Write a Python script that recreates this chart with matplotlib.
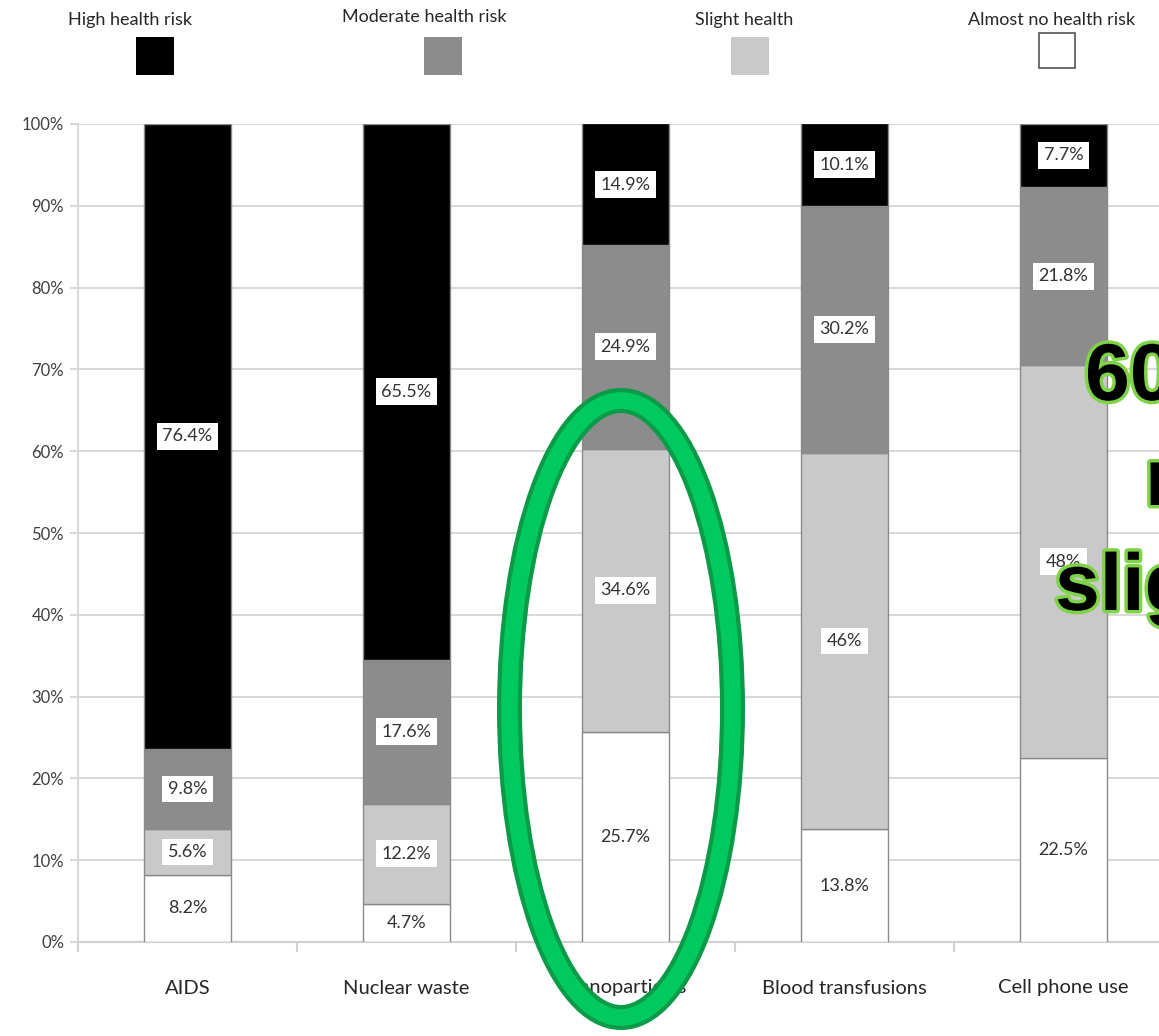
import matplotlib
matplotlib.use("Agg")
import matplotlib.pyplot as plt
import matplotlib.patheffects as pe
from matplotlib.patches import Ellipse, Rectangle
import numpy as np

categories = ['AIDS', 'Nuclear waste', 'Nanoparticles', 'Blood transfusions', 'Cell phone use']
series_names = ['High health risk', 'Moderate health risk', 'Slight health', 'Almost no health risk']
high = [76.4, 65.5, 14.9, 10.1, 7.7]
moderate = [9.8, 17.6, 24.9, 30.2, 21.8]
slight = [5.6, 12.2, 34.6, 46, 48]
none_risk = [8.2, 4.7, 25.7, 13.8, 22.5]
label_text = {
    'High health risk': ['76.4%', '65.5%', '14.9%', '10.1%', '7.7%'],
    'Moderate health risk': ['9.8%', '17.6%', '24.9%', '30.2%', '21.8%'],
    'Slight health': ['5.6%', '12.2%', '34.6%', '46%', '48%'],
    'Almost no health risk': ['8.2%', '4.7%', '25.7%', '13.8%', '22.5%'],
}
yticks = np.arange(0, 101, 10)

colors = {'High health risk': '#000000', 'Moderate health risk': '#8c8c8c',
          'Slight health': '#c9c9c9', 'Almost no health risk': '#ffffff'}

plt.rcParams['font.family'] = ['Lato', 'DejaVu Sans']

W, H = 1159, 1036
fig = plt.figure(figsize=(W / 100, H / 100), dpi=100)
ax = fig.add_axes([78 / W, (H - 942) / H, 1 - 78 / W, (942 - 124) / H])

x = np.arange(len(categories))
bottom = np.zeros(len(categories))
# stack from the bottom: almost none -> slight -> moderate -> high
for name, vals in [('Almost no health risk', none_risk), ('Slight health', slight),
                   ('Moderate health risk', moderate), ('High health risk', high)]:
    vals = np.array(vals, dtype=float)
    ax.bar(x, vals, 0.4, bottom=bottom, color=colors[name], edgecolor='#8a8a8a',
           linewidth=1.0, zorder=3)
    for i in range(len(x)):
        top = min(bottom[i] + vals[i], 100)
        mid = (bottom[i] + top) / 2
        ax.text(x[i], mid, label_text[name][i], ha='center', va='center', fontsize=13,
                color='#333333', zorder=5,
                bbox=dict(boxstyle='square,pad=0.3', fc='white', ec='none'))
    bottom += vals

ax.set_yticks(yticks)
ax.set_yticklabels([f'{v}%' for v in yticks], fontsize=12, color='#404040')
ax.yaxis.grid(True, color='#d9d9d9', linewidth=1.5, zorder=0)
ax.tick_params(axis='y', length=6, color='#d9d9d9', width=1.5, pad=4)

ax.set_xticks(x)
ax.set_xticklabels(categories, fontsize=14.5, color='#262626')
ax.set_xticks(np.arange(len(categories) + 1) - 0.5, minor=True)
ax.tick_params(axis='x', which='major', length=0, pad=27)
ax.tick_params(axis='x', which='minor', length=7, color='#d0d0d0', width=1.5)
ax.set_ylim(0, 100)
ax.set_xlim(-0.5, (W - 78) / 219 - 0.5)

for s in ['top', 'right']:
    ax.spines[s].set_visible(False)
ax.spines['left'].set_color('#d9d9d9')
ax.spines['left'].set_linewidth(1.5)
ax.spines['bottom'].set_color('#d0d0d0')
ax.spines['bottom'].set_linewidth(1.5)

# overlay in pixel coordinates for legend, ellipse and annotation
ov = fig.add_axes([0, 0, 1, 1], facecolor='none')
ov.set_xlim(0, W)
ov.set_ylim(H, 0)
ov.axis('off')

legend_pos = [(130, 155, 20, 56), (424, 443, 17, 56), (744, 750, 20, 56), (1052, 1058, 20, 50)]
for name, (tx, sx, ty, sy) in zip(series_names, legend_pos):
    ov.text(tx, ty, name, ha='center', va='center', fontsize=13, color='#262626')
    size = 38 if name != 'Almost no health risk' else 35
    ov.add_patch(Rectangle((sx - 19, sy - size / 2), 38 if size == 38 else 36, size,
                           fc=colors[name], ec='#555555' if name == 'Almost no health risk' else 'none',
                           lw=1.2))

ell = Ellipse((621, 709), 223, 617, fill=False, ec='#00c95f', lw=12, zorder=10)
ell.set_path_effects([pe.Stroke(linewidth=18, foreground='#0a9a48'), pe.Normal()])
ov.add_patch(ell)

outline = [pe.Stroke(linewidth=5, foreground='#7ed348'), pe.Normal()]
for tx, ty, s in [(1085, 400, '60% of'), (1145, 505, 'nano'), (1055, 610, 'slight')]:
    t = ov.text(tx, ty, s, ha='left', va='baseline', fontsize=58, fontweight='bold',
                family='Liberation Sans', color='black', zorder=12)
    t.set_path_effects(outline)

fig.savefig('out.png', dpi=100)
